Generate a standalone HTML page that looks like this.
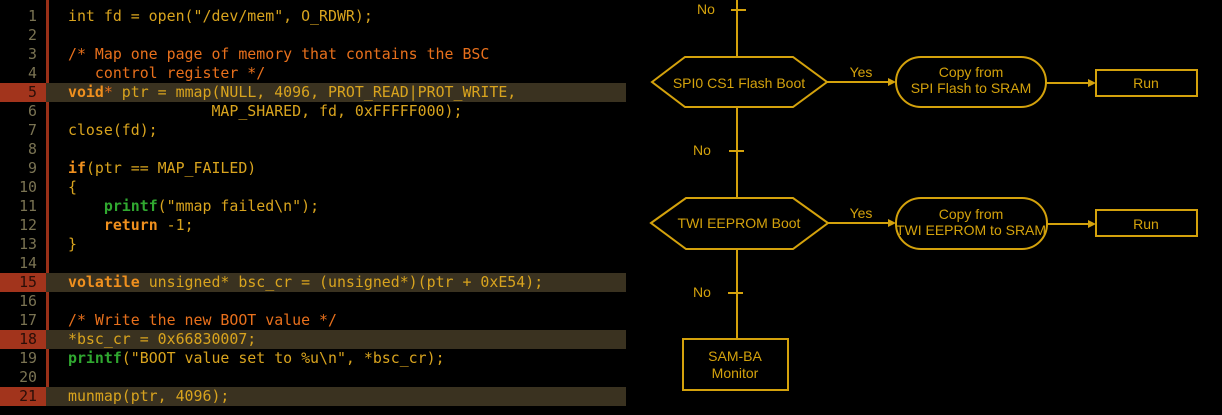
<!DOCTYPE html>
<html><head><meta charset="utf-8"><style>
html,body{margin:0;padding:0;background:#000;width:1222px;height:415px;overflow:hidden}
#code{position:absolute;left:0;top:7px;width:626px;font-family:"DejaVu Sans Mono","Liberation Mono",monospace;font-size:14.9px;color:#d9a41e}
.l{position:relative;height:19px;line-height:19px;white-space:pre}
.n{position:absolute;left:0;width:46px;height:19px;text-align:right;box-sizing:border-box;padding-right:9px;color:#7a7352}
.t{position:absolute;left:68px}
.h{background:#3a3220}
.h .n{background:#a2341c;color:#2a0e08}
.h .bg{position:absolute;left:50px;right:0;top:0;bottom:0;background:#3a3220}
#bar{position:absolute;left:46px;top:0;width:3px;height:405px;background:#9a3018}
.c{color:#e8701c}.k{color:#f0901e;font-weight:bold}.g{color:#30a830;font-weight:bold}
</style></head><body>
<div id="bar"></div>
<div id="code">
<div class="l"><span class="n">1</span><span class="t">int fd = open("/dev/mem", O_RDWR);</span></div>
<div class="l"><span class="n">2</span></div>
<div class="l"><span class="n">3</span><span class="t c">/* Map one page of memory that contains the BSC</span></div>
<div class="l"><span class="n">4</span><span class="t c">   control register */</span></div>
<div class="l h"><span class="n">5</span><span class="bg"></span><span class="t"><span class="k">void</span><span class="c">*</span> ptr = mmap(NULL, 4096, PROT_READ|PROT_WRITE,</span></div>
<div class="l"><span class="n">6</span><span class="t">                MAP_SHARED, fd, 0xFFFFF000);</span></div>
<div class="l"><span class="n">7</span><span class="t">close(fd);</span></div>
<div class="l"><span class="n">8</span></div>
<div class="l"><span class="n">9</span><span class="t"><span class="k">if</span>(ptr == MAP_FAILED)</span></div>
<div class="l"><span class="n">10</span><span class="t">{</span></div>
<div class="l"><span class="n">11</span><span class="t">    <span class="g">printf</span>("mmap failed\n");</span></div>
<div class="l"><span class="n">12</span><span class="t">    <span class="k">return</span> -1;</span></div>
<div class="l"><span class="n">13</span><span class="t">}</span></div>
<div class="l"><span class="n">14</span></div>
<div class="l h"><span class="n">15</span><span class="bg"></span><span class="t"><span class="k">volatile</span> unsigned* bsc_cr = (unsigned*)(ptr + 0xE54);</span></div>
<div class="l"><span class="n">16</span></div>
<div class="l"><span class="n">17</span><span class="t c">/* Write the new BOOT value */</span></div>
<div class="l h"><span class="n">18</span><span class="bg"></span><span class="t">*bsc_cr = 0x66830007;</span></div>
<div class="l"><span class="n">19</span><span class="t"><span class="g">printf</span>("BOOT value set to %u\n", *bsc_cr);</span></div>
<div class="l"><span class="n">20</span></div>
<div class="l h"><span class="n">21</span><span class="bg"></span><span class="t">munmap(ptr, 4096);</span></div>
</div>
<svg style="position:absolute;left:0;top:0" width="1222" height="415" font-family="Liberation Sans, sans-serif" font-size="14">
<g stroke="#d4a20c" stroke-width="2" fill="none">
<line x1="737" y1="0" x2="737" y2="57"/>
<line x1="731" y1="10" x2="746" y2="10"/>
<line x1="737" y1="107" x2="737" y2="198"/>
<line x1="729" y1="151" x2="744" y2="151"/>
<line x1="737" y1="249" x2="737" y2="339"/>
<line x1="728" y1="293" x2="743" y2="293"/>
<polygon points="652,82 685,57 793,57 827,82 793,107 685,107"/>
<polygon points="651,223 686,198 793,198 828,223 793,249 686,249"/>
<rect x="896" y="57" width="150" height="50" rx="25"/>
<rect x="896" y="198" width="151" height="51" rx="25"/>
<rect x="1096" y="70" width="101" height="26"/>
<rect x="1096" y="210" width="101" height="26"/>
<rect x="683" y="339" width="105" height="51"/>
<line x1="827" y1="82" x2="890" y2="82"/>
<line x1="828" y1="223" x2="890" y2="223"/>
<line x1="1046" y1="83" x2="1090" y2="83"/>
<line x1="1047" y1="224" x2="1090" y2="224"/>
</g>
<g fill="#d4a20c">
<polygon points="896,82 888,78 888,86"/>
<polygon points="896,223 888,219 888,227"/>
<polygon points="1096,83 1088,79 1088,87"/>
<polygon points="1096,224 1088,220 1088,228"/>
</g>
<g fill="#d4a20c" text-anchor="middle">
<text x="706" y="14">No</text>
<text x="702" y="155">No</text>
<text x="702" y="297">No</text>
<text x="861" y="77">Yes</text>
<text x="861" y="218">Yes</text>
<text x="739" y="88">SPI0 CS1 Flash Boot</text>
<text x="739" y="228">TWI EEPROM Boot</text>
<text x="971" y="77">Copy from</text>
<text x="971" y="93">SPI Flash to SRAM</text>
<text x="971" y="219">Copy from</text>
<text x="971" y="235">TWI EEPROM to SRAM</text>
<text x="1146" y="88">Run</text>
<text x="1146" y="229">Run</text>
<text x="735" y="361">SAM-BA</text>
<text x="735" y="378">Monitor</text>
</g>
</svg>
</body></html>
